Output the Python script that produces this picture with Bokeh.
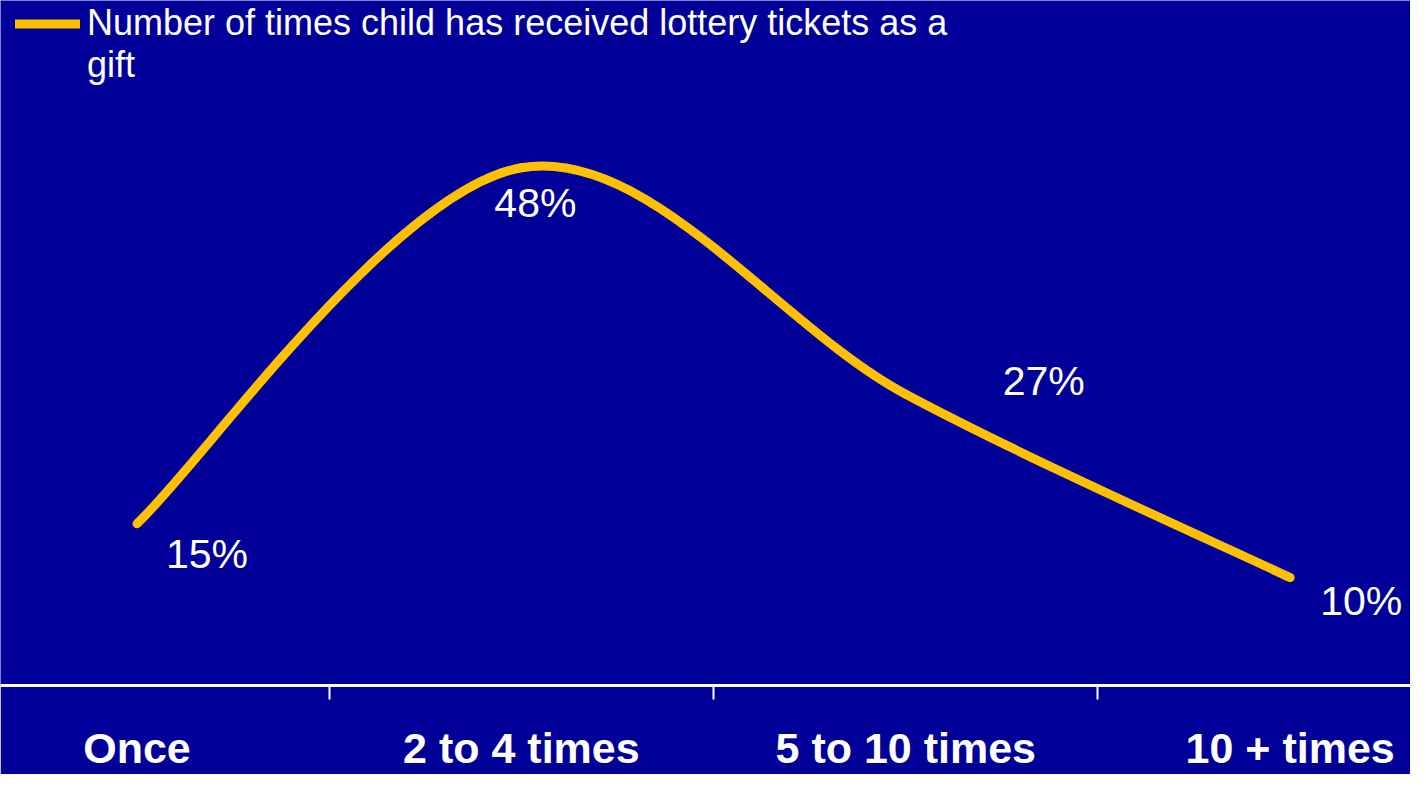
import numpy as np
from bokeh.plotting import figure
from bokeh.models import (ColumnDataSource, Range1d, FixedTicker, Legend, LegendItem)
from bokeh.embed import file_html
from bokeh.resources import INLINE
from bokeh.core.properties import value

# ---- data ----
categories = ["Once", "2 to 4 times", "5 to 10 times", "10 + times"]
percent = [15, 48, 27, 10]
pct_labels = ["15%", "48%", "27%", "10%"]
legend_lines = ["Number of times child has received lottery tickets as a", "gift"]

# ---- styles ----
BG = "#000099"
LINE = "#FFC000"
FONT = "Liberation Sans"
label_dx = [70, 14, 138, 71]     # screen-pixel offsets of data labels
label_dy = [30, 35, -13, 23]

n = len(categories)
xs = list(range(n))
bounds = [i + 0.5 for i in xs[:-1]]

# smoothed line (Catmull-Rom style Bezier segments between data points)
seg = dict(x0=[], y0=[], x1=[], y1=[], cx0=[], cy0=[], cx1=[], cy1=[])
for i in range(n - 1):
    a = i - 1 if i > 0 else i
    d = i + 2 if i + 2 < n else i + 1
    seg["x0"].append(xs[i]); seg["y0"].append(percent[i])
    seg["x1"].append(xs[i + 1]); seg["y1"].append(percent[i + 1])
    seg["cx0"].append(xs[i] + (xs[i + 1] - xs[a]) / 6)
    seg["cy0"].append(percent[i] + (percent[i + 1] - percent[a]) / 6)
    seg["cx1"].append(xs[i + 1] - (xs[d] - xs[i]) / 6)
    seg["cy1"].append(percent[i + 1] - (percent[d] - percent[i]) / 6)
seg_src = ColumnDataSource(seg)

lab_src = ColumnDataSource(dict(x=xs, y=percent, t=pct_labels, dx=label_dx, dy=label_dy))

p = figure(frame_width=1410, frame_height=685,
           x_range=Range1d(-0.355, 3.313), y_range=Range1d(0, 63.5),
           output_backend="svg", toolbar_location=None,
           min_border_left=0, min_border_right=0, min_border_top=0, min_border_bottom=0)
p.background_fill_color = BG
p.border_fill_color = BG
p.outline_line_color = None
p.grid.visible = False
p.yaxis.visible = False

bez = p.bezier(x0="x0", y0="y0", x1="x1", y1="y1", cx0="cx0", cy0="cy0",
               cx1="cx1", cy1="cy1", source=seg_src, line_color=LINE,
               line_width=9, line_cap="round")
blank = p.line(x=[], y=[], line_alpha=0)

p.text(x="x", y="y", text="t", x_offset="dx", y_offset="dy", source=lab_src,
       text_color="white", text_font=value(FONT), text_font_size="41px",
       text_align="center", text_baseline="middle")

# category axis: labels at category centres, ticks at the boundaries
ax = p.xaxis[0]
ax.ticker = FixedTicker(ticks=xs, minor_ticks=bounds)
ax.major_label_overrides = {i: c for i, c in zip(xs, categories)}
ax.axis_line_color = "white"
ax.axis_line_width = 3
ax.major_tick_line_color = None
ax.major_tick_out = 0
ax.major_tick_in = 0
ax.minor_tick_line_color = "white"
ax.minor_tick_line_width = 2
ax.minor_tick_out = 14
ax.minor_tick_in = 0
ax.major_label_text_color = "white"
ax.major_label_text_font = FONT
ax.major_label_text_font_style = "bold"
ax.major_label_text_font_size = "43px"
ax.major_label_standoff = 24

legend = Legend(items=[LegendItem(label=legend_lines[0], renderers=[bez]),
                       LegendItem(label=legend_lines[1], renderers=[blank])],
                location=(15, 599))
legend.margin = 0
legend.padding = 0
legend.spacing = 0
legend.glyph_width = 65
legend.glyph_height = 41
legend.label_height = 41
legend.label_standoff = 7
legend.label_text_color = "white"
legend.label_text_font = FONT
legend.label_text_font_size = "36px"
legend.background_fill_alpha = 0
legend.border_line_alpha = 0
legend.inactive_fill_alpha = 0
p.add_layout(legend)

open("out.html", "w").write(file_html(p, INLINE))
